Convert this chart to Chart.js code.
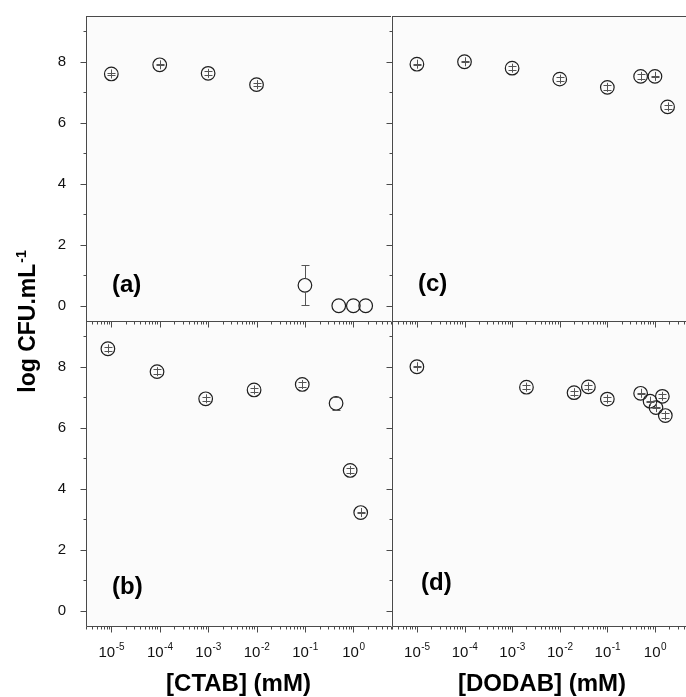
<!DOCTYPE html>
<html>
<head>
<meta charset="utf-8">
<script src="https://cdn.jsdelivr.net/npm/chart.js@4.4.0/dist/chart.umd.min.js"></script>
<style>
  html, body { margin: 0; padding: 0; background: #fff; }
  #wrap { position: relative; width: 686px; height: 697px; overflow: hidden; }
  #wrap canvas { position: absolute; left: 0; top: 0; }
</style>
</head>
<body>
<div id="wrap">
  <!-- stacking order matters: outward ticks must stay on top of the neighbour panel -->
  <canvas id="panelB" width="700" height="697"></canvas>
  <canvas id="panelD" width="700" height="697"></canvas>
  <canvas id="panelA" width="700" height="697"></canvas>
  <canvas id="panelC" width="700" height="697"></canvas>
</div>
<script>
/* log CFU vs surfactant concentration, four panels */

const X_MIN = 3e-6, X_MAX = 6;
const Y_MIN = -0.5, Y_MAX = 9.5;
const Y_TICKS = [0, 1, 2, 3, 4, 5, 6, 7, 8, 9];
const X_DECADES = [-6, -5, -4, -3, -2, -1, 0];
const X_LABEL_EXPS = [-5, -4, -3, -2, -1, 0];

// (a) CTAB, upper
const ctabA_x = [1e-5, 1e-4, 1e-3, 1e-2, 0.1, 0.5, 1.0, 1.8];
const ctabA_y = [7.6, 7.9, 7.62, 7.25, 0.67, 0, 0, 0];
const ctabA_err = [0.02, 0.02, 0.07, 0.06, 0.66, 0, 0, 0];

// (b) CTAB, lower
const ctabB_x = [8.5e-6, 8.8e-5, 8.9e-4, 8.9e-3, 0.088, 0.44, 0.86, 1.42];
const ctabB_y = [8.59, 7.84, 6.95, 7.24, 7.42, 6.8, 4.6, 3.22];
const ctabB_err = [0.07, 0.07, 0.07, 0.07, 0.07, 0.21, 0.07, 0.02];

// (c) DODAB, upper
const dodabC_x = [1e-5, 1e-4, 1e-3, 1e-2, 0.1, 0.5, 1.0, 1.84];
const dodabC_y = [7.92, 8.0, 7.79, 7.43, 7.16, 7.52, 7.52, 6.52];
const dodabC_err = [0.02, 0.02, 0.07, 0.07, 0.07, 0.07, 0.02, 0.06];

// (d) DODAB, lower
const dodabD_x = [1e-5, 2e-3, 0.02, 0.04, 0.1, 0.5, 0.79, 1.05, 1.43, 1.65];
const dodabD_y = [8.0, 7.33, 7.15, 7.34, 6.94, 7.13, 6.87, 6.66, 7.03, 6.4];
const dodabD_err = [0.02, 0.07, 0.07, 0.07, 0.07, 0.02, 0.02, 0.02, 0.07, 0.07];

const FONT = '"Liberation Sans", Arial, Helvetica, sans-serif';
const CANVAS_W = 700, CANVAS_H = 697;
const Y_AXIS_W = 60;
const COLORS = {
    axis: '#4a4a4a',
    mark: '#1e1e1e',
    err: '#555',
    text: '#111',
    plotBg: '#fbfbfb',
};
const MARK_R = 6.8;

Chart.defaults.font.family = FONT;

function drawPower(ctx, cx, baseline, exp) {
    const base = '10', sup = String(exp);
    ctx.font = '15px ' + FONT;
    const wb = ctx.measureText(base).width;
    ctx.font = '10px ' + FONT;
    const ws = ctx.measureText(sup).width;
    const x0 = cx - (wb + ws) / 2;
    ctx.fillStyle = COLORS.text;
    ctx.textAlign = 'left';
    ctx.textBaseline = 'alphabetic';
    ctx.font = '15px ' + FONT;
    ctx.fillText(base, x0, baseline);
    ctx.font = '10px ' + FONT;
    ctx.fillText(sup, x0 + wb + 0.5, baseline - 7);
}

function panelPlugin(cfg) {
    return {
        id: 'panel_' + cfg.letter,
        beforeDraw(chart) {
            const { ctx, chartArea: a } = chart;
            ctx.save();
            ctx.fillStyle = COLORS.plotBg;
            ctx.fillRect(a.left, a.top, a.right - a.left, a.bottom - a.top);
            ctx.restore();
        },
        afterDatasetsDraw(chart) {
            // error bars
            const { ctx, scales: { x, y } } = chart;
            const pts = chart.data.datasets[0].data;
            ctx.save();
            ctx.strokeStyle = COLORS.err;
            ctx.lineWidth = 1;
            for (const p of pts) {
                if (!p.err) continue;
                const px = Math.round(x.getPixelForValue(p.x)) + 0.5;
                const py = y.getPixelForValue(p.y);
                const hi = y.getPixelForValue(p.y + p.err);
                const lo = y.getPixelForValue(p.y - p.err);
                const d = lo - py;
                ctx.beginPath();
                if (d > MARK_R) {
                    ctx.moveTo(px, hi); ctx.lineTo(px, py - MARK_R);
                    ctx.moveTo(px, py + MARK_R); ctx.lineTo(px, lo);
                } else if (p.err < 0.15) {
                    ctx.moveTo(px, py - 4.5); ctx.lineTo(px, py + 4.5);
                }
                ctx.moveTo(px - 4, Math.round(hi) + 0.5); ctx.lineTo(px + 4, Math.round(hi) + 0.5);
                ctx.moveTo(px - 4, Math.round(lo) + 0.5); ctx.lineTo(px + 4, Math.round(lo) + 0.5);
                ctx.stroke();
            }
            ctx.restore();
        },
        afterDraw(chart) {
            const { ctx, chartArea: a, scales: { x, y } } = chart;
            const L = Math.round(a.left) + 0.5;
            const B = Math.round(a.bottom) + 0.5;
            ctx.save();
            ctx.strokeStyle = COLORS.axis;
            ctx.lineWidth = 1;

            // axis lines
            ctx.beginPath();
            ctx.moveTo(L, a.top); ctx.lineTo(L, B);
            ctx.moveTo(L, B); ctx.lineTo(a.right, B);
            if (cfg.topBorder) {
                const T = Math.round(a.top) + 0.5;
                ctx.moveTo(L, T); ctx.lineTo(a.right, T);
            }
            ctx.stroke();

            // outward tick marks
            ctx.beginPath();
            for (const t of y.ticks) {
                const py = Math.round(y.getPixelForValue(t.value)) + 0.5;
                const len = t.value % 2 === 0 ? 6 : 3;
                ctx.moveTo(L - len, py); ctx.lineTo(L, py);
            }
            for (const t of x.ticks) {
                const px = Math.round(x.getPixelForValue(t.value)) + 0.5;
                const len = t.major ? 6 : 3;
                ctx.moveTo(px, B); ctx.lineTo(px, B + len);
            }
            ctx.stroke();

            // decade labels
            if (cfg.xLabels) {
                for (const e of X_LABEL_EXPS) {
                    drawPower(ctx, x.getPixelForValue(Math.pow(10, e)), B + 30, e);
                }
            }

            // panel letter
            ctx.fillStyle = '#000';
            ctx.font = 'bold 24px ' + FONT;
            ctx.textAlign = 'left';
            ctx.textBaseline = 'middle';
            ctx.fillText('(' + cfg.letter + ')', a.left + cfg.letterDx, a.bottom - cfg.letterDy);

            // shared y title, drawn once
            if (cfg.yTitle) {
                ctx.save();
                ctx.translate(35, 322);
                ctx.rotate(-Math.PI / 2);
                ctx.font = 'bold 23px ' + FONT;
                const main = 'log CFU.mL';
                const w1 = ctx.measureText(main).width;
                ctx.font = 'bold 14px ' + FONT;
                const w2 = ctx.measureText('-1').width;
                const x0 = -(w1 + w2) / 2;
                ctx.textBaseline = 'alphabetic';
                ctx.font = 'bold 23px ' + FONT;
                ctx.fillText(main, x0, 0);
                ctx.font = 'bold 14px ' + FONT;
                ctx.fillText('-1', x0 + w1 + 1, -9);
                ctx.restore();
            }
            ctx.restore();
        },
    };
}

function zeroPadding(s) {
    s.paddingLeft = 0; s.paddingRight = 0; s.paddingTop = 0; s.paddingBottom = 0;
}

function makePanel(canvasId, xs, ys, errs, cfg) {
    const points = xs.map((v, i) => ({ x: v, y: ys[i], err: errs[i] }));
    const xAxisH = cfg.xTitle ? CANVAS_H - cfg.bottom : 10;
    return new Chart(document.getElementById(canvasId), {
        type: 'scatter',
        data: {
            datasets: [{
                data: points,
                pointStyle: 'circle',
                pointRadius: MARK_R,
                pointHoverRadius: MARK_R,
                borderColor: COLORS.mark,
                borderWidth: 1.2,
                backgroundColor: 'rgba(255,255,255,0)',
            }],
        },
        options: {
            responsive: false,
            animation: false,
            events: [],
            layout: {
                padding: {
                    left: cfg.left - Y_AXIS_W,
                    top: cfg.top,
                    right: CANVAS_W - cfg.right,
                    bottom: CANVAS_H - cfg.bottom - xAxisH,
                },
            },
            plugins: { legend: { display: false }, tooltip: { enabled: false } },
            scales: {
                x: {
                    type: 'logarithmic',
                    min: X_MIN,
                    max: X_MAX,
                    grid: { display: false },
                    border: { display: false },
                    ticks: { display: false },
                    title: cfg.xTitle ? {
                        display: true,
                        text: cfg.xTitle,
                        color: '#000',
                        font: { size: 24, weight: 'bold', lineHeight: 1 },
                        padding: { top: 0, bottom: 1 },
                    } : { display: false },
                    afterBuildTicks: s => {
                        const ticks = [];
                        for (const e of X_DECADES) {
                            for (let m = 1; m <= 9; m++) {
                                const v = m * Math.pow(10, e);
                                if (v >= X_MIN && v <= X_MAX) ticks.push({ value: v, major: m === 1 });
                            }
                        }
                        s.ticks = ticks;
                    },
                    afterFit: s => { s.height = xAxisH; zeroPadding(s); },
                },
                y: {
                    min: Y_MIN,
                    max: Y_MAX,
                    grid: { display: false },
                    border: { display: false },
                    ticks: {
                        display: cfg.yLabels,
                        padding: 12,
                        color: COLORS.text,
                        font: { size: 15 },
                        callback: v => (v % 2 === 0 ? String(v) : ''),
                    },
                    afterBuildTicks: s => { s.ticks = Y_TICKS.map(v => ({ value: v })); },
                    afterFit: s => { s.width = Y_AXIS_W; zeroPadding(s); },
                },
            },
        },
        plugins: [panelPlugin(cfg)],
    });
}

makePanel('panelB', ctabB_x, ctabB_y, ctabB_err, {
    letter: 'b', left: 86, right: 391, top: 321, bottom: 626,
    yLabels: true, xLabels: true, xTitle: '[CTAB] (mM)', yTitle: true,
    letterDx: 26, letterDy: 39,
});
makePanel('panelD', dodabD_x, dodabD_y, dodabD_err, {
    letter: 'd', left: 392, right: 697, top: 321, bottom: 626,
    yLabels: false, xLabels: true, xTitle: '[DODAB] (mM)',
    letterDx: 29, letterDy: 43,
});
makePanel('panelA', ctabA_x, ctabA_y, ctabA_err, {
    letter: 'a', left: 86, right: 391, top: 16, bottom: 321,
    yLabels: true, topBorder: true,
    letterDx: 26, letterDy: 36,
});
makePanel('panelC', dodabC_x, dodabC_y, dodabC_err, {
    letter: 'c', left: 392, right: 697, top: 16, bottom: 321,
    yLabels: false, topBorder: true,
    letterDx: 26, letterDy: 37,
});
</script>
</body>
</html>
